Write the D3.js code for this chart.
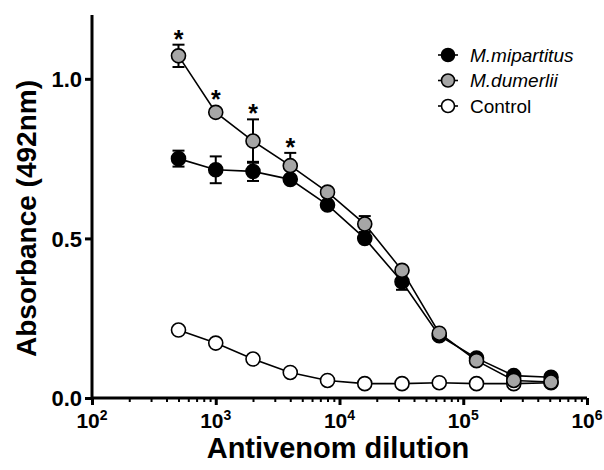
<!DOCTYPE html>
<html lang="en">
<head>
<meta charset="UTF-8">
<script src="https://cdn.jsdelivr.net/npm/d3@7"></script>
<title>ELISA</title>
<style>
  body { margin: 0; background: #fff; }
  text { font-family: "Liberation Sans", Arial, sans-serif; }
</style>
</head>
<body>
<svg id="chart" width="604" height="470"></svg>
<script>
// data
const dilution = [500, 1000, 2000, 4000, 8000, 16000, 32000, 64000, 128000, 256000, 512000];
const mipartitus    = [0.75, 0.715, 0.71, 0.685, 0.605, 0.50, 0.364, 0.195, 0.125, 0.07, 0.065];
const mipartitusErr = [0.025, 0.042, 0.03, 0.01, 0.01, 0.01, 0.025, 0.01, 0.01, 0.01, 0.01];
const dumerlii      = [1.072, 0.895, 0.805, 0.728, 0.645, 0.545, 0.40, 0.203, 0.117, 0.055, 0.05];
const dumerliiErr   = [0.035, 0.01, 0.068, 0.04, 0.01, 0.025, 0.01, 0.01, 0.01, 0.01, 0.01];
const control       = [0.213, 0.172, 0.122, 0.08, 0.055, 0.045, 0.045, 0.048, 0.045, 0.045, 0.048];
const signif = [true, true, true, true, false, false, false, false, false, false, false];
const yTicks = [0, 0.5, 1.0];
const xTicks = [1e2, 1e3, 1e4, 1e5, 1e6];
const seriesNames = ["M.mipartitus", "M.dumerlii", "Control"];

const svg = d3.select("svg#chart");
const x = d3.scaleLog().domain([1e2, 1e6]).range([92, 587]);
const y = d3.scaleLinear().domain([0, 1.2]).range([398, 15]);
const r = 7;

// axes
const xAxis = d3.axisBottom(x)
  .tickValues(xTicks.slice(0, -1).flatMap(d => d3.range(2, 10).map(k => k * d)))
  .tickSize(4).tickFormat("");
svg.append("g").attr("transform", "translate(0,398)").call(xAxis)
  .call(g => g.selectAll("line").attr("stroke-width", 2));
const xMajor = svg.append("g").attr("transform", "translate(0,398)")
  .call(d3.axisBottom(x).tickValues(xTicks).tickSize(7).tickFormat(""));
xMajor.select(".domain").attr("stroke-width", 3).attr("d", `M${x(1e2)},0H${x(1e6)}`);
xMajor.selectAll("line").attr("stroke-width", 3);

const xLab = svg.append("g").selectAll("text").data(xTicks).join("text")
  .attr("x", d => x(d)).attr("y", 428)
  .attr("text-anchor", "middle")
  .style("font-size", "21px").style("font-weight", "bold");
xLab.append("tspan").text("10");
xLab.append("tspan").attr("dy", -8).style("font-size", "14px")
  .text(d => Math.round(Math.log10(d)));

const yAx = svg.append("g").attr("transform", "translate(92,0)")
  .call(d3.axisLeft(y).tickValues(yTicks).tickSize(7).tickFormat(d3.format(".1f")));
yAx.select(".domain").attr("stroke-width", 3).attr("d", `M0,${y(1.2)}V${y(0)}`);
yAx.selectAll("line").attr("stroke-width", 3);
yAx.selectAll("text").attr("x", -10).attr("dy", "0.36em")
  .style("font-size", "22px").style("font-weight", "bold").style("font-family", "'Liberation Sans', Arial, sans-serif");

svg.append("text").attr("transform", `translate(36,${(y(0) + y(1.2)) / 2 + 12}) rotate(-90)`)
  .attr("text-anchor", "middle").style("font-size", "28px").style("font-weight", "bold")
  .text("Absorbance (492nm)");
svg.append("text").attr("x", 338).attr("y", 458).attr("text-anchor", "middle")
  .style("font-size", "29px").style("font-weight", "bold").text("Antivenom dilution");

// series
const line = d3.line().x(d => x(d[0])).y(d => y(d[1]));
function drawSeries(vals, errs, fill) {
  const pts = dilution.map((d, i) => [d, vals[i], errs ? errs[i] : 0]);
  const g = svg.append("g");
  g.append("path").datum(pts).attr("d", line)
    .attr("fill", "none").attr("stroke", "#000").attr("stroke-width", 1.6);
  if (errs) {
    const eb = g.selectAll("g.err").data(pts).join("g").attr("class", "err")
      .attr("stroke", "#000").attr("stroke-width", 2);
    eb.append("line").attr("x1", d => x(d[0])).attr("x2", d => x(d[0]))
      .attr("y1", d => y(d[1] + d[2])).attr("y2", d => y(d[1] - d[2]));
    eb.append("line").attr("x1", d => x(d[0]) - 6).attr("x2", d => x(d[0]) + 6)
      .attr("y1", d => y(d[1] + d[2])).attr("y2", d => y(d[1] + d[2]));
    eb.append("line").attr("x1", d => x(d[0]) - 6).attr("x2", d => x(d[0]) + 6)
      .attr("y1", d => y(d[1] - d[2])).attr("y2", d => y(d[1] - d[2]));
  }
  g.selectAll("circle").data(pts).join("circle")
    .attr("cx", d => x(d[0])).attr("cy", d => y(d[1])).attr("r", r)
    .attr("fill", fill).attr("stroke", "#000").attr("stroke-width", 1.6);
  return pts;
}
drawSeries(control, null, "#fff");
drawSeries(mipartitus, mipartitusErr, "#000");
const dPts = drawSeries(dumerlii, dumerliiErr, "#a6a6a6");

// significance stars
svg.append("g").selectAll("text").data(dPts.filter((d, i) => signif[i])).join("text")
  .attr("x", d => x(d[0])).attr("y", d => Math.min(y(d[1] + d[2]), y(d[1]) - r) + 3)
  .attr("text-anchor", "middle").style("font-size", "25px").style("font-weight", "bold")
  .text("*");

// legend
const fills = ["#000", "#a6a6a6", "#fff"];
const leg = svg.append("g").selectAll("g").data(seriesNames).join("g")
  .attr("transform", (d, i) => `translate(448,${55 + i * 25.5})`);
leg.append("line").attr("x1", -10).attr("x2", 10).attr("stroke", "#000").attr("stroke-width", 1.6);
leg.append("circle").attr("r", 6.5).attr("fill", (d, i) => fills[i])
  .attr("stroke", "#000").attr("stroke-width", 1.6);
leg.append("text").attr("x", 22).attr("dy", "0.36em").style("font-size", "19px")
  .style("font-style", (d, i) => i < 2 ? "italic" : "normal").text(d => d);
</script>
</body>
</html>
